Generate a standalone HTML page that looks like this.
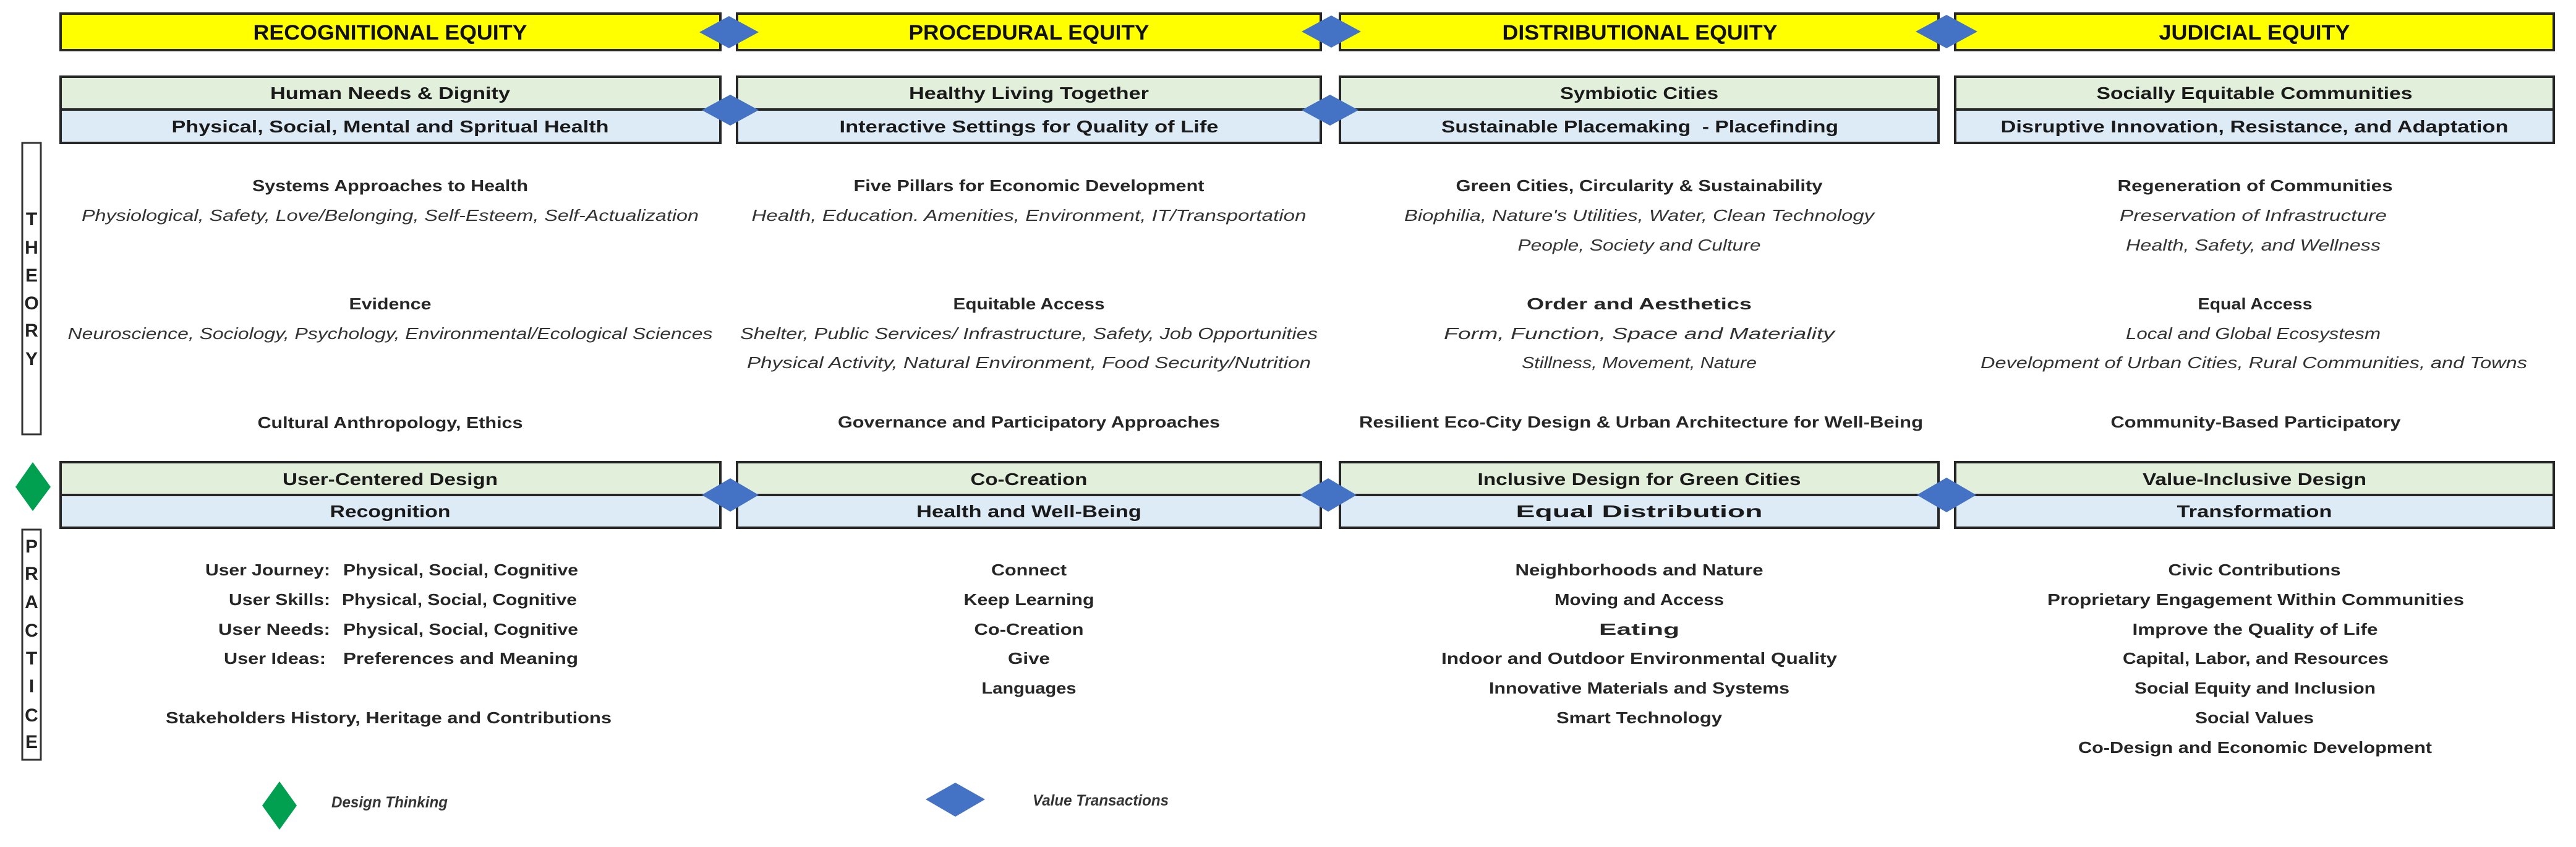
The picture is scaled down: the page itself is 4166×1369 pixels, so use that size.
<!DOCTYPE html>
<html><head><meta charset="utf-8"><style>
html,body{margin:0;padding:0;background:#fff;}
svg{display:block;}
text{font-family:"Liberation Sans",sans-serif;fill:#262626;}
.b{font-weight:bold;}
.i{font-style:italic;fill:#333;}
.h{font-weight:bold;font-size:34px;fill:#111;}
.s{font-weight:bold;font-size:28px;fill:#1a1a1a;}
.t{font-size:26px;}
.L{font-weight:bold;font-size:30px;fill:#222;}
</style></head><body>
<svg width="4166" height="1369" viewBox="0 0 4166 1369" xmlns="http://www.w3.org/2000/svg">
<rect width="4166" height="1369" fill="#fff"/>
<g stroke="#262626" stroke-width="4">
<rect x="98" y="22" width="1067" height="59" fill="#FFFF00"/>
<rect x="1192" y="22" width="944" height="59" fill="#FFFF00"/>
<rect x="2167" y="22" width="968" height="59" fill="#FFFF00"/>
<rect x="3162" y="22" width="968" height="59" fill="#FFFF00"/>
<rect x="98" y="124" width="1067" height="53" fill="#E2EFDA"/>
<rect x="98" y="177" width="1067" height="54" fill="#DDEBF7"/>
<rect x="1192" y="124" width="944" height="53" fill="#E2EFDA"/>
<rect x="1192" y="177" width="944" height="54" fill="#DDEBF7"/>
<rect x="2167" y="124" width="968" height="53" fill="#E2EFDA"/>
<rect x="2167" y="177" width="968" height="54" fill="#DDEBF7"/>
<rect x="3162" y="124" width="968" height="53" fill="#E2EFDA"/>
<rect x="3162" y="177" width="968" height="54" fill="#DDEBF7"/>
<rect x="98" y="747" width="1067" height="53" fill="#E2EFDA"/>
<rect x="98" y="800" width="1067" height="53" fill="#DDEBF7"/>
<rect x="1192" y="747" width="944" height="53" fill="#E2EFDA"/>
<rect x="1192" y="800" width="944" height="53" fill="#DDEBF7"/>
<rect x="2167" y="747" width="968" height="53" fill="#E2EFDA"/>
<rect x="2167" y="800" width="968" height="53" fill="#DDEBF7"/>
<rect x="3162" y="747" width="968" height="53" fill="#E2EFDA"/>
<rect x="3162" y="800" width="968" height="53" fill="#DDEBF7"/>
</g>
<g stroke="#333" stroke-width="3" fill="#fff">
<rect x="36" y="231" width="30" height="471"/>
<rect x="36" y="856" width="30" height="372"/>
</g>
<g fill="#4472C4">
<polygon points="1131,52 1179,26 1227,52 1179,78"/>
<polygon points="2105,51 2153,25 2201,51 2153,77"/>
<polygon points="3098,51 3148,24 3198,51 3148,78"/>
<polygon points="1135,178 1181,153 1227,178 1181,203"/>
<polygon points="2105,178 2151,153 2197,178 2151,203"/>
<polygon points="1135,800 1181,773 1227,800 1181,827"/>
<polygon points="2102,800 2148,773 2194,800 2148,827"/>
<polygon points="3100,800 3148,772 3196,800 3148,828"/>
<polygon points="1497,1292 1545,1265 1593,1292 1545,1320"/>
</g>
<g fill="#00A050">
<polygon points="25,787 53,747 82,787 53,826"/>
<polygon points="424,1302 452,1263 480,1302 452,1341"/>
</g>
<g text-anchor="middle">
<text class="h" x="631" y="64" textLength="443" lengthAdjust="spacingAndGlyphs">RECOGNITIONAL EQUITY</text>
<text class="h" x="1664" y="64" textLength="389" lengthAdjust="spacingAndGlyphs">PROCEDURAL EQUITY</text>
<text class="h" x="2652" y="64" textLength="445" lengthAdjust="spacingAndGlyphs">DISTRIBUTIONAL EQUITY</text>
<text class="h" x="3646" y="64" textLength="309" lengthAdjust="spacingAndGlyphs">JUDICIAL EQUITY</text>
</g>
<g text-anchor="middle">
<text class="s" x="631" y="160" textLength="388" lengthAdjust="spacingAndGlyphs">Human Needs &amp; Dignity</text>
<text class="s" x="1664" y="160" textLength="388" lengthAdjust="spacingAndGlyphs">Healthy Living Together</text>
<text class="s" x="2651" y="160" textLength="256" lengthAdjust="spacingAndGlyphs">Symbiotic Cities</text>
<text class="s" x="3646" y="160" textLength="511" lengthAdjust="spacingAndGlyphs">Socially Equitable Communities</text>
<text class="s" x="631" y="214" textLength="707" lengthAdjust="spacingAndGlyphs">Physical, Social, Mental and Spritual Health</text>
<text class="s" x="1664" y="214" textLength="613" lengthAdjust="spacingAndGlyphs">Interactive Settings for Quality of Life</text>
<text class="s" x="2652" y="214" textLength="642" lengthAdjust="spacingAndGlyphs" xml:space="preserve">Sustainable Placemaking  - Placefinding</text>
<text class="s" x="3646" y="214" textLength="821" lengthAdjust="spacingAndGlyphs">Disruptive Innovation, Resistance, and Adaptation</text>
<text class="s" x="631" y="784" textLength="348" lengthAdjust="spacingAndGlyphs">User-Centered Design</text>
<text class="s" x="1664" y="784" textLength="189" lengthAdjust="spacingAndGlyphs">Co-Creation</text>
<text class="s" x="2651" y="784" textLength="523" lengthAdjust="spacingAndGlyphs">Inclusive Design for Green Cities</text>
<text class="s" x="3646" y="784" textLength="362" lengthAdjust="spacingAndGlyphs">Value-Inclusive Design</text>
<text class="s" x="631" y="836" textLength="195" lengthAdjust="spacingAndGlyphs">Recognition</text>
<text class="s" x="1664" y="836" textLength="364" lengthAdjust="spacingAndGlyphs">Health and Well-Being</text>
<text class="s" x="2651" y="836" textLength="399" lengthAdjust="spacingAndGlyphs">Equal Distribution</text>
<text class="s" x="3646" y="836" textLength="251" lengthAdjust="spacingAndGlyphs">Transformation</text>
</g>
<g text-anchor="middle">
<text class="t b" x="631" y="309" textLength="446" lengthAdjust="spacingAndGlyphs">Systems Approaches to Health</text>
<text class="t i" x="631" y="357" textLength="998" lengthAdjust="spacingAndGlyphs">Physiological, Safety, Love/Belonging, Self-Esteem, Self-Actualization</text>
<text class="t b" x="631" y="500" textLength="133" lengthAdjust="spacingAndGlyphs">Evidence</text>
<text class="t i" x="631" y="548" textLength="1043" lengthAdjust="spacingAndGlyphs">Neuroscience, Sociology, Psychology, Environmental/Ecological Sciences</text>
<text class="t b" x="631" y="692" textLength="429" lengthAdjust="spacingAndGlyphs">Cultural Anthropology, Ethics</text>
<text class="t b" x="1664" y="309" textLength="567" lengthAdjust="spacingAndGlyphs">Five Pillars for Economic Development</text>
<text class="t i" x="1664" y="357" textLength="897" lengthAdjust="spacingAndGlyphs">Health, Education. Amenities, Environment, IT/Transportation</text>
<text class="t b" x="1664" y="500" textLength="245" lengthAdjust="spacingAndGlyphs">Equitable Access</text>
<text class="t i" x="1664" y="548" textLength="934" lengthAdjust="spacingAndGlyphs">Shelter, Public Services/ Infrastructure, Safety, Job Opportunities</text>
<text class="t i" x="1664" y="595" textLength="912" lengthAdjust="spacingAndGlyphs">Physical Activity, Natural Environment, Food Security/Nutrition</text>
<text class="t b" x="1664" y="691" textLength="618" lengthAdjust="spacingAndGlyphs">Governance and Participatory Approaches</text>
<text class="t b" x="2651" y="309" textLength="593" lengthAdjust="spacingAndGlyphs">Green Cities, Circularity &amp; Sustainability</text>
<text class="t i" x="2651" y="357" textLength="760" lengthAdjust="spacingAndGlyphs">Biophilia, Nature's Utilities, Water, Clean Technology</text>
<text class="t i" x="2651" y="405" textLength="393" lengthAdjust="spacingAndGlyphs">People, Society and Culture</text>
<text class="t b" x="2651" y="500" textLength="364" lengthAdjust="spacingAndGlyphs">Order and Aesthetics</text>
<text class="t i" x="2651" y="548" textLength="632" lengthAdjust="spacingAndGlyphs">Form, Function, Space and Materiality</text>
<text class="t i" x="2651" y="595" textLength="380" lengthAdjust="spacingAndGlyphs">Stillness, Movement, Nature</text>
<text class="t b" x="2654" y="691" textLength="912" lengthAdjust="spacingAndGlyphs">Resilient Eco-City Design &amp; Urban Architecture for Well-Being</text>
<text class="t b" x="3647" y="309" textLength="445" lengthAdjust="spacingAndGlyphs">Regeneration of Communities</text>
<text class="t i" x="3644" y="357" textLength="432" lengthAdjust="spacingAndGlyphs">Preservation of Infrastructure</text>
<text class="t i" x="3644" y="405" textLength="412" lengthAdjust="spacingAndGlyphs">Health, Safety, and Wellness</text>
<text class="t b" x="3647" y="500" textLength="185" lengthAdjust="spacingAndGlyphs">Equal Access</text>
<text class="t i" x="3644" y="548" textLength="412" lengthAdjust="spacingAndGlyphs">Local and Global Ecosystesm</text>
<text class="t i" x="3645" y="595" textLength="884" lengthAdjust="spacingAndGlyphs">Development of Urban Cities, Rural Communities, and Towns</text>
<text class="t b" x="3648" y="691" textLength="469" lengthAdjust="spacingAndGlyphs">Community-Based Participatory</text>
</g>
<g>
<text class="t b" x="534" y="930" text-anchor="end" textLength="202" lengthAdjust="spacingAndGlyphs">User Journey:</text>
<text class="t b" x="534" y="978" text-anchor="end" textLength="164" lengthAdjust="spacingAndGlyphs">User Skills:</text>
<text class="t b" x="534" y="1026" text-anchor="end" textLength="181" lengthAdjust="spacingAndGlyphs">User Needs:</text>
<text class="t b" x="527" y="1073" text-anchor="end" textLength="165" lengthAdjust="spacingAndGlyphs">User Ideas:</text>
<text class="t b" x="555" y="930" textLength="380" lengthAdjust="spacingAndGlyphs">Physical, Social, Cognitive</text>
<text class="t b" x="553" y="978" textLength="380" lengthAdjust="spacingAndGlyphs">Physical, Social, Cognitive</text>
<text class="t b" x="555" y="1026" textLength="380" lengthAdjust="spacingAndGlyphs">Physical, Social, Cognitive</text>
<text class="t b" x="555" y="1073" textLength="380" lengthAdjust="spacingAndGlyphs">Preferences and Meaning</text>
<text class="t b" x="268" y="1169" textLength="721" lengthAdjust="spacingAndGlyphs">Stakeholders History, Heritage and Contributions</text>
</g>
<g text-anchor="middle">
<text class="t b" x="1664" y="930" textLength="122" lengthAdjust="spacingAndGlyphs">Connect</text>
<text class="t b" x="1664" y="978" textLength="211" lengthAdjust="spacingAndGlyphs">Keep Learning</text>
<text class="t b" x="1664" y="1026" textLength="177" lengthAdjust="spacingAndGlyphs">Co-Creation</text>
<text class="t b" x="1664" y="1073" textLength="68" lengthAdjust="spacingAndGlyphs">Give</text>
<text class="t b" x="1664" y="1121" textLength="153" lengthAdjust="spacingAndGlyphs">Languages</text>
<text class="t b" x="2651" y="930" textLength="401" lengthAdjust="spacingAndGlyphs">Neighborhoods and Nature</text>
<text class="t b" x="2651" y="978" textLength="274" lengthAdjust="spacingAndGlyphs">Moving and Access</text>
<text class="t b" x="2651" y="1026" textLength="130" lengthAdjust="spacingAndGlyphs">Eating</text>
<text class="t b" x="2651" y="1073" textLength="640" lengthAdjust="spacingAndGlyphs">Indoor and Outdoor Environmental Quality</text>
<text class="t b" x="2651" y="1121" textLength="486" lengthAdjust="spacingAndGlyphs">Innovative Materials and Systems</text>
<text class="t b" x="2651" y="1169" textLength="268" lengthAdjust="spacingAndGlyphs">Smart Technology</text>
<text class="t b" x="3646" y="930" textLength="279" lengthAdjust="spacingAndGlyphs">Civic Contributions</text>
<text class="t b" x="3648" y="978" textLength="674" lengthAdjust="spacingAndGlyphs">Proprietary Engagement Within Communities</text>
<text class="t b" x="3647" y="1026" textLength="397" lengthAdjust="spacingAndGlyphs">Improve the Quality of Life</text>
<text class="t b" x="3648" y="1073" textLength="430" lengthAdjust="spacingAndGlyphs">Capital, Labor, and Resources</text>
<text class="t b" x="3647" y="1121" textLength="390" lengthAdjust="spacingAndGlyphs">Social Equity and Inclusion</text>
<text class="t b" x="3646" y="1169" textLength="192" lengthAdjust="spacingAndGlyphs">Social Values</text>
<text class="t b" x="3647" y="1217" textLength="572" lengthAdjust="spacingAndGlyphs">Co-Design and Economic Development</text>
</g>
<g text-anchor="middle">
<text class="L" x="51" y="364">T</text>
<text class="L" x="51" y="410">H</text>
<text class="L" x="51" y="455">E</text>
<text class="L" x="51" y="500">O</text>
<text class="L" x="51" y="544">R</text>
<text class="L" x="51" y="590">Y</text>
<text class="L" x="51" y="893">P</text>
<text class="L" x="51" y="937">R</text>
<text class="L" x="51" y="983">A</text>
<text class="L" x="51" y="1029">C</text>
<text class="L" x="51" y="1074">T</text>
<text class="L" x="51" y="1119">I</text>
<text class="L" x="51" y="1166">C</text>
<text class="L" x="51" y="1209">E</text>
</g>
<text class="b i" x="536" y="1305" font-size="25" textLength="188" lengthAdjust="spacingAndGlyphs">Design Thinking</text>
<text class="b i" x="1670" y="1302" font-size="25" textLength="220" lengthAdjust="spacingAndGlyphs">Value Transactions</text>
</svg>
</body></html>
